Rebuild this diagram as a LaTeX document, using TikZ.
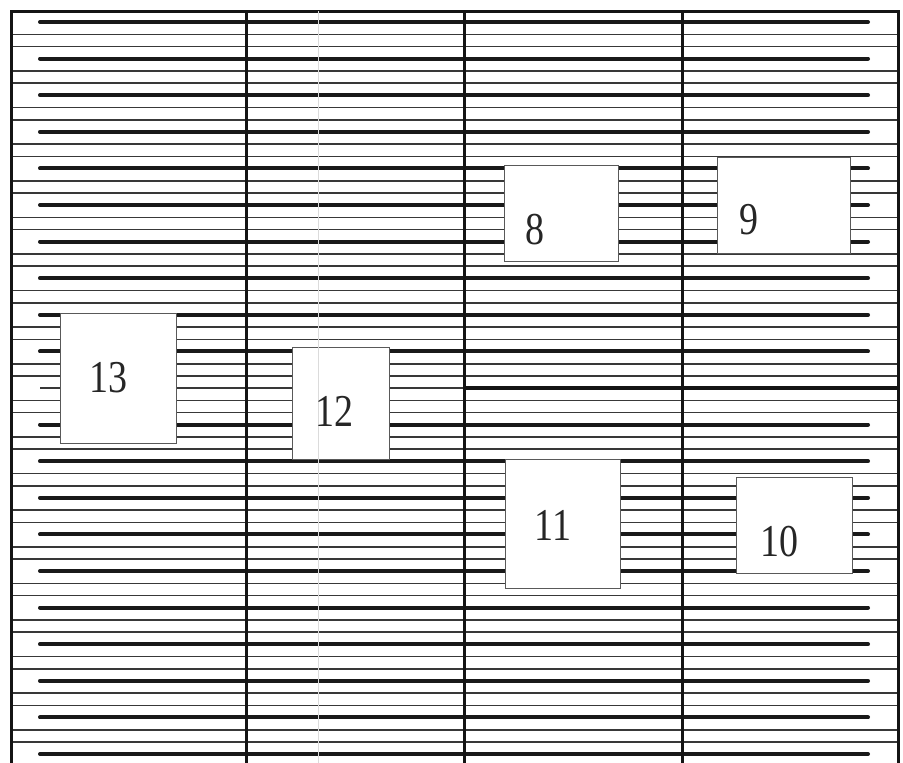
\documentclass[tikz,border=0pt]{standalone}
\usepackage{graphicx}
\usepackage{fontspec}
\setmainfont{Liberation Serif}
\begin{document}
\begin{tikzpicture}[x=1pt,y=-1pt,
  finger/.style={line width=4pt, line cap=round, black!90},
  thinline/.style={line width=1.6pt, black!78},
  bus/.style={line width=3pt, black!92},
  frame/.style={line width=3pt, black!92},
  pad/.style={draw=black!65, line width=0.9pt, fill=white, inner sep=0pt},
  num/.style={inner sep=0pt, font=\fontsize{38}{40}\selectfont, text=black!85}]
\useasboundingbox (0,0) rectangle (903,763);
\clip (0,0) rectangle (903,763);
\fill[white] (0,0) rectangle (903,763);
% thin lines across the whole width
\foreach \k in {0,...,20} {
  \pgfmathsetmacro{\yy}{22+36.6*\k}
  \draw[thinline] (11,\yy+12.3) -- (898,\yy+12.3);
  \draw[thinline] (11,\yy+24.6) -- (898,\yy+24.6);
}
% thick fingers
\foreach \k in {0,...,9,11,12,...,20} {
  \pgfmathsetmacro{\yy}{22+36.6*\k}
  \draw[finger] (40,\yy) -- (868,\yy);
}
\draw[thinline] (40,388) -- (464,388);
\draw[bus, line width=4pt] (464,388) -- (898,388);
% vertical lines and frame
\draw[frame] (11,763) -- (11,11) -- (898,11) -- (898,763);
\draw[bus] (246,11) -- (246,763);
\draw[bus] (464,11) -- (464,763);
\draw[bus] (682,11) -- (682,763);
% pads
\node[pad, minimum width=114pt, minimum height=96pt]  (b8)  at (561,213)   {};
\node[pad, minimum width=133pt, minimum height=96pt]  (b9)  at (783.5,205) {};
\node[pad, minimum width=115pt, minimum height=129pt] (b11) at (562.5,523.5) {};
\node[pad, minimum width=116pt, minimum height=96pt]  (b10) at (794,525)   {};
\node[pad, minimum width=97pt,  minimum height=112pt] (b12) at (340.5,403) {};
\node[pad, minimum width=116pt, minimum height=130pt] (b13) at (118,378)   {};
% faint scan line
\draw[black!14, line width=0.5pt] (318,11) -- (318,763);
% labels
\node[num] (n8)  at (535,230) {\scalebox{1}[1.2]{8}};
\node[num] (n9)  at (749,220) {\scalebox{1}[1.2]{9}};
\node[num] (n11) at (553,525) {\scalebox{1}[1.2]{11}};
\node[num] (n10) at (779,542) {\scalebox{1}[1.2]{10}};
\node[num] (n12) at (334,411) {\scalebox{1}[1.2]{12}};
\node[num] (n13) at (108,378) {\scalebox{1}[1.2]{13}};
\end{tikzpicture}
\end{document}
